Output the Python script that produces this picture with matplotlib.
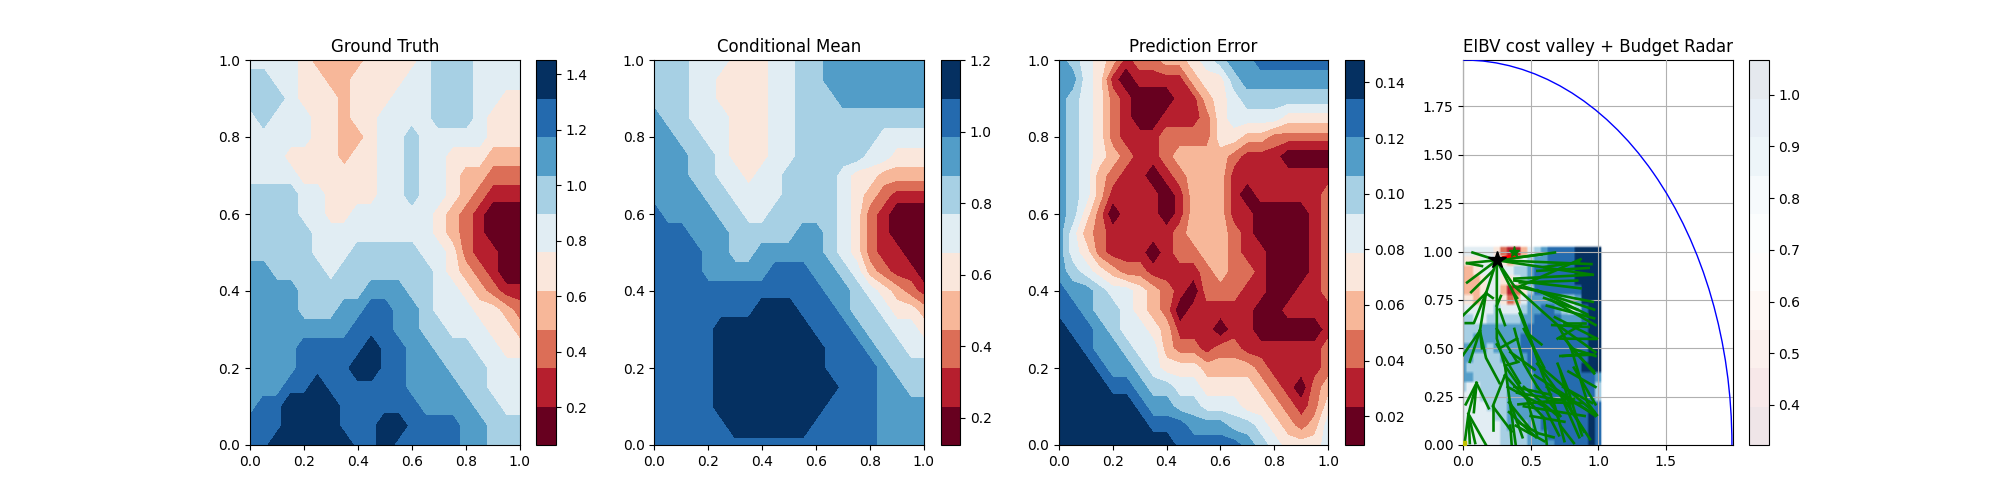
import numpy as np
import matplotlib
matplotlib.use("Agg")
import matplotlib.pyplot as plt
from matplotlib.colors import BoundaryNorm
from matplotlib.patches import Circle

grid_x = np.arange(21) * 0.05
grid_y = np.arange(21)[::-1] * 0.05

# contour bounds
gt_levels = [0.063, 0.202, 0.341, 0.480, 0.619, 0.758, 0.896, 1.035, 1.174, 1.313, 1.452]
mean_levels = [0.124, 0.232, 0.339, 0.447, 0.554, 0.662, 0.770, 0.877, 0.985, 1.092, 1.200]
err_levels = [0.0097, 0.0235, 0.0374, 0.0512, 0.0650, 0.0789, 0.0927, 0.1065, 0.1204, 0.1342, 0.1480]
eibv_levels = [0.323, 0.397, 0.472, 0.546, 0.621, 0.695, 0.770, 0.844, 0.918, 0.993, 1.067]

gt_ticks = [0.2, 0.4, 0.6, 0.8, 1.0, 1.2, 1.4]
mean_ticks = [0.2, 0.4, 0.6, 0.8, 1.0, 1.2]
err_ticks = [0.02, 0.04, 0.06, 0.08, 0.10, 0.12, 0.14]
eibv_ticks = [0.4, 0.5, 0.6, 0.7, 0.8, 0.9, 1.0]

# typical value inside each colour band (outer bands sit near the extremes)
gt_centres = [0.08, 0.27, 0.41, 0.55, 0.69, 0.83, 0.97, 1.11, 1.25, 1.43]
mean_centres = [0.14, 0.29, 0.39, 0.50, 0.61, 0.72, 0.82, 0.93, 1.04, 1.18]
err_centres = [0.0110, 0.0305, 0.0443, 0.0581, 0.0719, 0.0858, 0.0996, 0.1134, 0.1273, 0.1460]
eibv_centres = [0.36, 0.434, 0.509, 0.584, 0.658, 0.732, 0.807, 0.881, 0.955, 1.03]

# band at each grid node, top row (y=1) first
gt_bands = [
    [5,5,5,5,4,3,3,3,3,4,4,4,4,5,6,6,6,5,5,5,5],
    [6,6,5,5,4,4,3,3,4,4,4,4,5,5,6,6,6,5,5,5,5],
    [6,6,6,5,4,4,4,3,4,4,4,5,5,5,6,6,6,5,5,4,4],
    [5,6,5,5,5,4,4,3,4,4,5,5,5,5,6,6,6,5,4,4,4],
    [5,5,5,5,5,4,4,3,3,4,5,5,6,5,5,5,5,5,4,4,4],
    [5,5,5,4,4,4,4,3,4,4,5,5,6,5,5,4,4,4,3,3,3],
    [5,5,5,5,4,4,4,4,4,4,5,5,6,5,5,4,3,3,2,2,2],
    [6,6,6,6,5,5,4,4,4,4,5,5,6,5,5,4,3,2,1,1,1],
    [6,6,6,6,5,5,4,4,5,5,5,5,5,5,4,3,2,1,0,0,0],
    [6,6,6,6,6,5,5,5,5,5,5,5,5,5,4,3,2,1,0,0,0],
    [6,6,6,6,6,5,5,5,6,6,6,6,6,5,5,4,2,1,1,0,0],
    [7,7,6,6,6,6,5,6,6,6,6,6,6,6,5,4,3,2,1,0,0],
    [7,7,7,7,6,6,6,6,6,7,7,7,6,6,5,5,4,3,2,1,1],
    [7,7,7,7,6,6,6,7,7,8,8,7,7,6,5,5,5,4,4,3,2],
    [7,7,7,7,7,7,7,7,8,8,8,7,7,6,6,5,5,5,4,4,3],
    [7,7,7,7,8,8,8,8,8,9,8,8,7,7,6,6,6,5,5,4,4],
    [7,7,7,7,8,8,8,8,9,9,8,8,7,7,7,6,6,6,5,5,5],
    [7,7,7,8,8,9,8,8,8,8,8,8,7,7,7,7,6,6,5,5,5],
    [7,8,8,9,9,9,9,8,8,8,8,8,8,7,7,7,7,6,6,5,5],
    [8,8,8,9,9,9,9,8,8,8,9,9,8,8,8,8,7,7,6,6,6],
    [8,8,9,9,9,9,9,9,8,8,9,8,8,8,8,8,7,7,6,6,6],
]
mean_bands = [
    [6,6,6,5,5,5,4,4,4,5,5,6,6,7,7,7,7,7,7,7,7],
    [6,6,6,5,5,4,4,4,4,5,5,6,6,7,7,7,7,7,7,7,7],
    [6,6,6,5,5,4,4,4,4,5,5,6,6,6,7,7,7,7,7,7,7],
    [7,6,6,5,5,5,4,4,4,5,5,6,6,6,6,6,6,6,6,6,6],
    [7,7,6,6,5,5,4,4,4,5,5,6,6,6,6,6,6,5,5,5,5],
    [7,7,7,6,6,5,4,4,4,5,5,6,6,6,6,6,5,5,4,4,4],
    [7,7,7,6,6,5,5,4,5,5,6,6,6,6,5,4,4,3,3,3,3],
    [7,7,7,7,6,6,5,5,5,5,6,6,6,6,5,4,3,2,1,1,1],
    [8,7,7,7,7,6,6,5,5,6,6,6,6,6,5,4,2,1,0,0,0],
    [8,8,8,7,7,7,6,6,6,6,6,7,7,6,5,4,2,1,0,0,0],
    [8,8,8,8,7,7,6,6,7,7,7,7,7,6,5,4,2,1,1,0,0],
    [8,8,8,8,7,7,7,7,7,8,8,8,7,7,6,5,3,2,1,1,0],
    [8,8,8,8,8,8,8,8,8,8,8,8,8,7,7,6,5,4,3,2,1],
    [8,8,8,8,8,8,8,8,9,9,9,8,8,8,7,6,6,5,4,4,3],
    [8,8,8,8,8,9,9,9,9,9,9,9,8,8,8,7,6,6,5,5,4],
    [8,8,8,8,8,9,9,9,9,9,9,9,9,8,8,8,7,6,6,5,5],
    [8,8,8,8,8,9,9,9,9,9,9,9,9,8,8,8,8,7,6,6,6],
    [8,8,8,8,8,9,9,9,9,9,9,9,9,9,8,8,8,7,7,6,6],
    [8,8,8,8,8,9,9,9,9,9,9,9,9,8,8,8,8,7,7,7,7],
    [8,8,8,8,8,8,9,9,9,9,9,9,8,8,8,8,8,7,7,7,7],
    [8,8,8,8,8,8,8,8,8,8,8,8,8,8,8,8,8,7,7,7,7],
]
err_bands = [
    [7,6,5,4,3,1,2,2,3,3,4,5,6,7,7,8,8,8,8,8,8],
    [7,7,5,4,1,0,1,1,1,1,3,4,4,6,7,7,7,7,7,7,7],
    [7,6,5,4,2,1,0,0,0,1,1,3,4,5,6,6,6,6,6,6,6],
    [7,6,5,4,2,1,0,0,1,1,1,2,4,5,5,5,5,4,4,4,4],
    [7,6,5,4,2,1,1,1,2,2,2,2,4,4,3,3,2,2,2,2,2],
    [7,6,5,4,3,2,1,1,2,3,3,3,3,2,1,1,1,0,0,0,0],
    [7,6,5,3,2,1,1,0,1,2,3,3,3,1,1,1,1,1,1,1,1],
    [7,6,5,3,1,1,1,1,0,1,3,3,3,1,0,1,1,1,1,1,2],
    [7,6,4,2,0,1,1,1,0,1,3,3,3,1,1,0,0,0,0,1,2],
    [7,5,3,2,1,1,1,1,1,2,3,3,3,2,1,0,0,0,0,1,2],
    [7,5,4,2,1,1,1,0,1,2,2,3,3,2,1,1,0,0,0,1,2],
    [7,6,5,4,3,2,2,1,1,1,1,2,3,2,2,1,0,0,0,1,2],
    [8,7,7,6,5,5,4,3,2,1,0,2,2,2,1,1,0,0,1,1,2],
    [8,8,7,6,6,5,4,3,2,0,1,1,1,1,1,0,0,1,1,1,1],
    [9,8,8,7,6,5,5,4,3,1,1,1,0,1,1,0,0,0,0,0,1],
    [9,9,8,7,7,6,5,5,3,2,2,1,2,2,1,1,1,1,1,1,2],
    [9,9,9,8,7,7,6,5,4,4,4,3,3,3,3,2,1,1,1,1,2],
    [9,9,9,9,8,8,7,6,6,5,5,4,4,4,4,3,2,1,0,2,3],
    [9,9,9,9,9,9,8,7,7,6,6,5,5,5,4,4,3,2,1,2,4],
    [9,9,9,9,9,9,9,8,8,8,7,7,7,6,6,5,4,3,2,3,5],
    [9,9,9,9,9,9,9,9,9,8,8,8,8,8,7,6,5,4,4,4,5],
]
eibv_bands = [
    [5,5,5,5,5,4,2,1,1,3,5,6,7,8,8,8,8,9,9,9,9],
    [4,4,4,5,5,5,4,3,4,5,6,7,7,8,8,8,8,9,9,9,9],
    [3,3,4,5,5,5,5,5,6,6,7,8,8,8,8,8,8,9,9,9,9],
    [3,3,3,4,5,5,4,4,5,6,7,8,8,8,8,8,8,9,9,9,9],
    [3,3,3,4,5,5,3,1,2,4,6,8,8,8,8,8,8,8,9,9,9],
    [4,4,3,4,5,5,4,2,3,5,7,7,7,7,7,6,6,7,9,9,9],
    [5,5,5,5,5,6,5,5,5,6,7,7,8,8,7,6,5,6,8,9,9],
    [6,6,5,5,6,6,6,6,6,7,7,8,8,8,8,7,7,7,8,9,9],
    [6,6,6,7,7,7,7,7,7,7,8,8,8,8,8,8,8,8,8,9,9],
    [6,6,7,7,7,7,7,7,7,8,8,8,8,8,8,8,8,8,8,9,9],
    [7,7,7,7,6,7,7,7,7,8,8,8,8,8,8,8,8,8,8,9,9],
    [7,7,6,6,6,6,7,7,7,7,8,8,8,8,8,8,8,8,8,9,9],
    [7,6,6,6,6,6,6,7,7,7,8,8,8,8,8,8,8,8,9,9,9],
    [7,7,6,6,6,6,6,7,7,7,7,8,8,8,8,8,8,8,8,8,7],
    [6,5,5,6,6,6,6,7,7,7,7,8,8,8,8,8,8,8,8,8,6],
    [5,5,5,6,6,6,6,7,7,7,7,8,8,8,8,8,8,8,8,8,6],
    [5,5,5,5,6,6,6,7,7,7,7,8,8,8,8,8,8,8,8,8,8],
    [5,5,5,5,5,6,6,7,7,7,7,7,8,8,8,8,8,8,8,9,8],
    [5,5,5,5,5,5,6,7,6,6,7,7,8,8,8,8,8,8,8,9,8],
    [5,5,5,5,5,5,6,6,6,6,7,7,7,8,8,8,8,8,8,9,8],
    [5,5,5,5,5,5,6,6,6,6,7,7,7,7,8,8,8,8,8,9,8],
]

# path tree, each branch as (x, y) nodes in data units
tree_root = (0.25, 0.955)
tree_branches = [
    [tree_root, (0.07, 0.995)], [tree_root, (0.03, 0.94)], [(0.14, 0.925), (0.03, 0.94)],
    [tree_root, (0.03, 0.84)], [(0.22, 0.90), (0.06, 0.79)],
    [tree_root, (0.17, 0.785), (0.0, 0.67)],
    [(0.17, 0.785), (0.08, 0.63), (0.02, 0.63)], [(0.17, 0.785), (0.22, 0.76)],
    [(0.17, 0.785), (0.125, 0.59), (0.0, 0.465)], [(0.125, 0.59), (0.05, 0.43)],
    [(0.125, 0.59), (0.17, 0.45), (0.27, 0.32)], [(0.125, 0.59), (0.14, 0.50)],
    [(0.10, 0.32), (0.02, 0.21)], [(0.10, 0.32), (0.08, 0.17)], [(0.10, 0.32), (0.19, 0.19)],
    [(0.10, 0.32), (0.04, 0.16), (0.01, 0.0)], [(0.04, 0.16), (0.05, 0.01)],
    [(0.04, 0.16), (0.09, 0.01)], [(0.04, 0.16), (0.17, 0.0)],
    [tree_root, (0.25, 0.72), (0.25, 0.55), (0.31, 0.41), (0.39, 0.0)],
    [(0.25, 0.72), (0.28, 0.77)], [(0.25, 0.60), (0.40, 0.43)], [(0.25, 0.52), (0.42, 0.32)],
    [(0.31, 0.41), (0.41, 0.43)], [(0.31, 0.36), (0.22, 0.20), (0.36, 0.07)],
    [(0.22, 0.20), (0.22, 0.08)], [(0.31, 0.36), (0.60, 0.14), (0.62, 0.0)],
    [(0.33, 0.30), (0.60, 0.20), (0.71, 0.05)], [(0.34, 0.22), (0.49, 0.09)],
    [(0.34, 0.17), (0.54, 0.04)], [(0.35, 0.10), (0.36, 0.0)], [(0.38, 0.30), (0.65, 0.26)],
    [(0.40, 0.27), (0.74, 0.23), (0.86, 0.04)], [(0.41, 0.21), (0.82, 0.24)],
    [(0.40, 0.12), (0.56, 0.06), (0.67, 0.04)], [(0.45, 0.20), (0.90, 0.15)],
    [tree_root, (0.37, 0.79), (0.49, 0.57), (0.58, 0.38), (0.68, 0.20), (0.72, 0.10), (0.82, 0.01)],
    [(0.37, 0.79), (0.40, 0.76)], [(0.49, 0.57), (0.58, 0.52)], [(0.42, 0.68), (0.55, 0.45)],
    [(0.45, 0.60), (0.60, 0.40)], [(0.55, 0.42), (0.78, 0.20), (0.94, 0.03)],
    [(0.55, 0.42), (0.97, 0.17)], [(0.53, 0.36), (0.73, 0.27), (0.98, 0.15)],
    [(0.62, 0.30), (0.97, 0.16)],
    [tree_root, (0.38, 0.82), (0.70, 0.62), (0.80, 0.50), (0.92, 0.22), (0.99, 0.155)],
    [(0.38, 0.85), (0.87, 0.81)], [(0.38, 0.82), (0.96, 0.74)], [(0.38, 0.86), (0.95, 0.88)],
    [tree_root, (0.96, 0.88)], [tree_root, (0.68, 0.995)], [tree_root, (0.58, 0.985)],
    [tree_root, (0.95, 0.935)], [(0.55, 0.90), (0.93, 0.915)], [(0.60, 0.92), (0.86, 0.945)],
    [(0.45, 0.82), (0.97, 0.70)], [(0.65, 0.75), (0.98, 0.62)], [(0.68, 0.66), (0.99, 0.55)],
    [(0.75, 0.63), (0.90, 0.63)], [(0.72, 0.61), (0.98, 0.48)], [(0.80, 0.50), (0.98, 0.46)],
    [(0.80, 0.50), (0.97, 0.38)], [(0.75, 0.55), (0.97, 0.37)], [(0.78, 0.38), (0.98, 0.30)],
    [(0.82, 0.40), (0.98, 0.21)],
    [(0.42, 0.82), (0.87, 0.96)], [(0.42, 0.84), (0.845, 0.85)], [(0.55, 0.80), (0.92, 0.675)],
    [(0.60, 0.76), (0.845, 0.70)], [(0.62, 0.72), (0.97, 0.655)], [(0.66, 0.62), (0.93, 0.61)],
    [(0.70, 0.55), (0.87, 0.62)], [(0.72, 0.55), (0.98, 0.548)], [(0.74, 0.46), (0.92, 0.472)],
    [(0.72, 0.46), (0.97, 0.467)], [(0.70, 0.42), (0.78, 0.28), (0.88, 0.05)],
    [(0.72, 0.38), (0.80, 0.18), (0.895, 0.07)], [(0.74, 0.30), (0.955, 0.217)],
    [(0.62, 0.22), (0.88, 0.217)], [(0.55, 0.30), (0.72, 0.15)],
    [(0.45, 0.30), (0.70, 0.15), (0.75, 0.02)], [(0.50, 0.15), (0.75, 0.12)],
    [(0.47, 0.25), (0.55, 0.04), (0.60, 0.02)], [(0.35, 0.22), (0.44, 0.04)],
    [(0.39, 0.10), (0.52, 0.05)], [(0.32, 0.40), (0.52, 0.20)],
    [(0.38, 0.60), (0.45, 0.42), (0.55, 0.30)], [(0.27, 0.70), (0.31, 0.62)],
    [(0.27, 0.50), (0.40, 0.55)], [(0.35, 0.48), (0.53, 0.39)],
]
best_path_x = [0.30, 0.38]
best_path_y = [0.97, 0.98]
goal_x, goal_y = 0.38, 1.0
start_x, start_y = 0.01, 0.01
budget_radius = 1.99
titles = ["Ground Truth", "Conditional Mean", "Prediction Error", "EIBV cost valley + Budget Radar"]

fig, axes = plt.subplots(1, 4, figsize=(20, 5), dpi=100)


def filled(ax, z, levels, **kw):
    # colours reach both ends of RdBu: scale runs between the outer band middles
    half = (levels[1] - levels[0]) / 2
    return ax.contourf(grid_x, grid_y, z, levels=levels, cmap="RdBu",
                       vmin=levels[0] + half, vmax=levels[-1] - half, **kw)


panels = [(gt_bands, gt_centres, gt_levels, gt_ticks),
          (mean_bands, mean_centres, mean_levels, mean_ticks),
          (err_bands, err_centres, err_levels, err_ticks)]
for ax, (bands, centres, levels, ticks), title in zip(axes, panels, titles):
    z = np.array(centres)[np.array(bands)]
    cs = filled(ax, z, levels)
    fig.colorbar(cs, ax=ax, ticks=ticks)
    ax.set_title(title)

ax = axes[3]
z = np.array(eibv_centres)[np.array(eibv_bands)]
cs = filled(ax, z, eibv_levels, alpha=0.1, zorder=0)
fig.colorbar(cs, ax=ax, ticks=eibv_ticks)

# soft-edged cost field: repeat cells and leave a masked rim that fades out
rep = np.repeat(np.repeat(z, 3, axis=0), 3, axis=1)
rep = np.pad(rep, ((1, 0), (0, 1)), constant_values=np.nan)
cmap = plt.get_cmap("RdBu").copy()
cmap.set_bad((1, 1, 1, 0))
cell = 0.05 / 3
ax.imshow(np.ma.masked_invalid(rep), cmap=cmap, norm=BoundaryNorm(eibv_levels, 256),
          extent=(-0.025, 1.025 + cell, -0.025, 1.025 + cell), origin="upper", aspect="auto",
          interpolation="bilinear", interpolation_stage="rgba", zorder=1)
ax.grid(True, zorder=2)
ax.set_axisbelow(False)
for gl in ax.get_xgridlines() + ax.get_ygridlines():
    gl.set_zorder(2)
for branch in tree_branches:
    xs, ys = zip(*branch)
    ax.plot(xs, ys, color="green", lw=1.9, zorder=3, solid_capstyle="projecting")
ax.plot(best_path_x, best_path_y, color="red", lw=2, zorder=4)
ax.plot([goal_x], [goal_y], "*", color="green", ms=8, zorder=4)
ax.plot([start_x], [start_y], "s", color="y", ms=3, zorder=4)
ax.plot([tree_root[0]], [tree_root[1]], "k*", ms=13, zorder=5)
ax.add_patch(Circle((0, 0), budget_radius, fill=False, edgecolor="blue", lw=1.0, zorder=4))
ax.set_xlim(0, 1.995)
ax.set_ylim(0, budget_radius)
ax.set_xticks([0, 0.5, 1.0, 1.5])
ax.set_yticks([0, 0.25, 0.5, 0.75, 1.0, 1.25, 1.5, 1.75])
ax.set_title(titles[3])

fig.savefig("out.png", dpi=100)
